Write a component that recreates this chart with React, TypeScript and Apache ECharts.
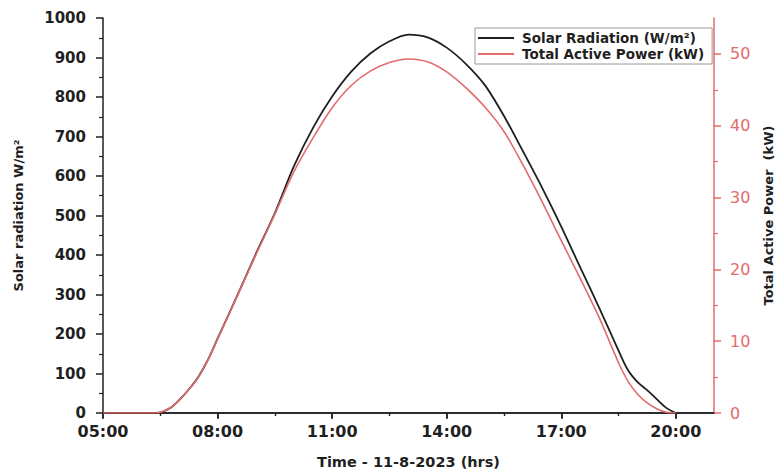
import { useEffect, useRef } from 'react';
import * as echarts from 'echarts';

// Time of day in decimal hours (11-8-2023)
const hours = [5, 6, 6.4, 6.75, 7, 7.25, 7.5, 7.75, 8, 8.5, 9, 9.5, 10, 10.5, 11, 11.5, 12, 12.5, 13, 13.5, 14, 14.5, 15, 15.5, 16, 16.5, 17, 17.5, 18, 18.5, 18.75, 19, 19.25, 19.5, 19.75, 20];
// Solar radiation (W/m²)
const solarRadiation = [0, 0, 0, 12, 33, 60, 92, 135, 188, 294, 402, 506, 625, 722, 801, 864, 910, 941, 958, 951, 925, 884, 830, 752, 662, 570, 472, 368, 265, 158, 108, 78, 58, 35, 13, 0];
// Total active power (kW)
const activePower = [0, 0, 0, 0.7, 1.8, 3.3, 5.0, 7.4, 10.3, 16.1, 22.0, 27.7, 33.6, 38.3, 42.5, 45.6, 47.6, 48.8, 49.3, 48.9, 47.5, 45.3, 42.6, 39.2, 34.5, 29.4, 24.0, 18.7, 13.2, 7.0, 4.4, 2.6, 1.4, 0.6, 0.1, 0];

const xTickHours = [5, 8, 11, 14, 17, 20];
const rightTicks = [0, 10, 20, 30, 40, 50];

const seriesNames = ['Solar Radiation (W/m²)', 'Total Active Power (kW)'];
const axisTitles = {
  x: 'Time - 11-8-2023 (hrs)',
  left: 'Solar radiation W/m²',
  right: 'Total Active Power  (kW)',
};

const FONT = "'DejaVu Sans', sans-serif";
const BLACK = '#1f1f1f';
const RED = '#e26b6b';

const fmtHour = (v: number) => String(Math.round(v)).padStart(2, '0') + ':00';

export default function App() {
  const ref = useRef<HTMLDivElement>(null);
  useEffect(() => {
    const chart = echarts.init(ref.current!, null, { renderer: 'svg' });
    const axisLine = { show: true, lineStyle: { color: BLACK, width: 1.5 } };
    chart.setOption({
      animation: false,
      backgroundColor: '#fff',
      grid: { left: 103, right: 66, top: 18, bottom: 61 },
      legend: {
        orient: 'vertical',
        left: 475,
        top: 28,
        icon: 'rect',
        itemWidth: 36,
        itemHeight: 2,
        itemGap: 2,
        padding: [3, 8, 3, 3],
        borderColor: '#9a9a9a',
        borderWidth: 1,
        backgroundColor: '#fff',
        textStyle: { fontFamily: FONT, fontWeight: 'bold', fontSize: 13.5, color: BLACK, padding: [0, 0, 0, 3] },
        data: seriesNames,
      },
      xAxis: [
        {
          type: 'value',
          position: 'bottom',
          min: 5,
          max: 21,
          interval: 3,
          name: axisTitles.x,
          nameLocation: 'middle',
          nameGap: 41,
          nameTextStyle: { fontFamily: FONT, fontWeight: 'bold', fontSize: 14.5, color: BLACK },
          axisLine,
          axisTick: { show: true, length: 6, lineStyle: { color: BLACK, width: 1.5 }, customValues: xTickHours },
          minorTick: { show: true, splitNumber: 2, length: 3, lineStyle: { color: BLACK, width: 1.2 } },
          axisLabel: { customValues: xTickHours, formatter: fmtHour, margin: 10, fontFamily: FONT, fontWeight: 'bold', fontSize: 16, color: BLACK },
          splitLine: { show: false },
        },
        {
          type: 'value',
          position: 'top',
          min: 5,
          max: 21,
          interval: 3,
          axisLine,
          axisTick: { show: true, inside: true, length: 5, lineStyle: { color: BLACK, width: 1.5 }, customValues: xTickHours },
          minorTick: { show: true, splitNumber: 2, length: 3, lineStyle: { color: BLACK, width: 1.2 } },
          axisLabel: { show: false },
          splitLine: { show: false },
        },
      ],
      yAxis: [
        {
          type: 'value',
          position: 'left',
          min: 0,
          max: 1000,
          interval: 100,
          name: axisTitles.left,
          nameLocation: 'middle',
          nameGap: 78,
          nameTextStyle: { fontFamily: FONT, fontWeight: 'bold', fontSize: 13, color: BLACK },
          axisLine,
          axisTick: { show: true, length: 7, lineStyle: { color: BLACK, width: 1.5 } },
          minorTick: { show: true, splitNumber: 2, length: 4, lineStyle: { color: BLACK, width: 1.2 } },
          axisLabel: { margin: 17, formatter: (v: number) => String(v), fontFamily: FONT, fontWeight: 'bold', fontSize: 15, color: BLACK },
          splitLine: { show: false },
        },
        {
          type: 'value',
          position: 'right',
          min: 0,
          max: 55,
          interval: 10,
          name: axisTitles.right,
          nameLocation: 'middle',
          nameRotate: 90,
          nameGap: 48,
          nameTextStyle: { fontFamily: FONT, fontWeight: 'bold', fontSize: 13, color: BLACK },
          axisLine: { show: true, lineStyle: { color: RED, width: 1.5 } },
          axisTick: { show: true, length: 7, lineStyle: { color: RED, width: 1.5 }, customValues: rightTicks },
          minorTick: { show: true, splitNumber: 2, length: 4, lineStyle: { color: RED, width: 1.2 } },
          axisLabel: { customValues: rightTicks, margin: 16, fontFamily: FONT, fontSize: 16, color: RED },
          splitLine: { show: false },
        },
      ],
      series: [
        {
          name: seriesNames[0],
          type: 'line',
          xAxisIndex: 0,
          yAxisIndex: 0,
          symbol: 'none',
          smooth: 0.3,
          lineStyle: { color: BLACK, width: 1.8 },
          itemStyle: { color: BLACK },
          data: hours.map((h, i) => [h, solarRadiation[i]]),
          z: 3,
        },
        {
          name: seriesNames[1],
          type: 'line',
          xAxisIndex: 0,
          yAxisIndex: 1,
          symbol: 'none',
          smooth: 0.3,
          lineStyle: { color: RED, width: 1.6 },
          itemStyle: { color: RED },
          data: hours.map((h, i) => [h, activePower[i]]),
          z: 4,
        },
      ],
    });
    return () => chart.dispose();
  }, []);
  return <div ref={ref} style={{ position: 'fixed', left: 0, top: 0, width: 783, height: 474 }} />;
}
